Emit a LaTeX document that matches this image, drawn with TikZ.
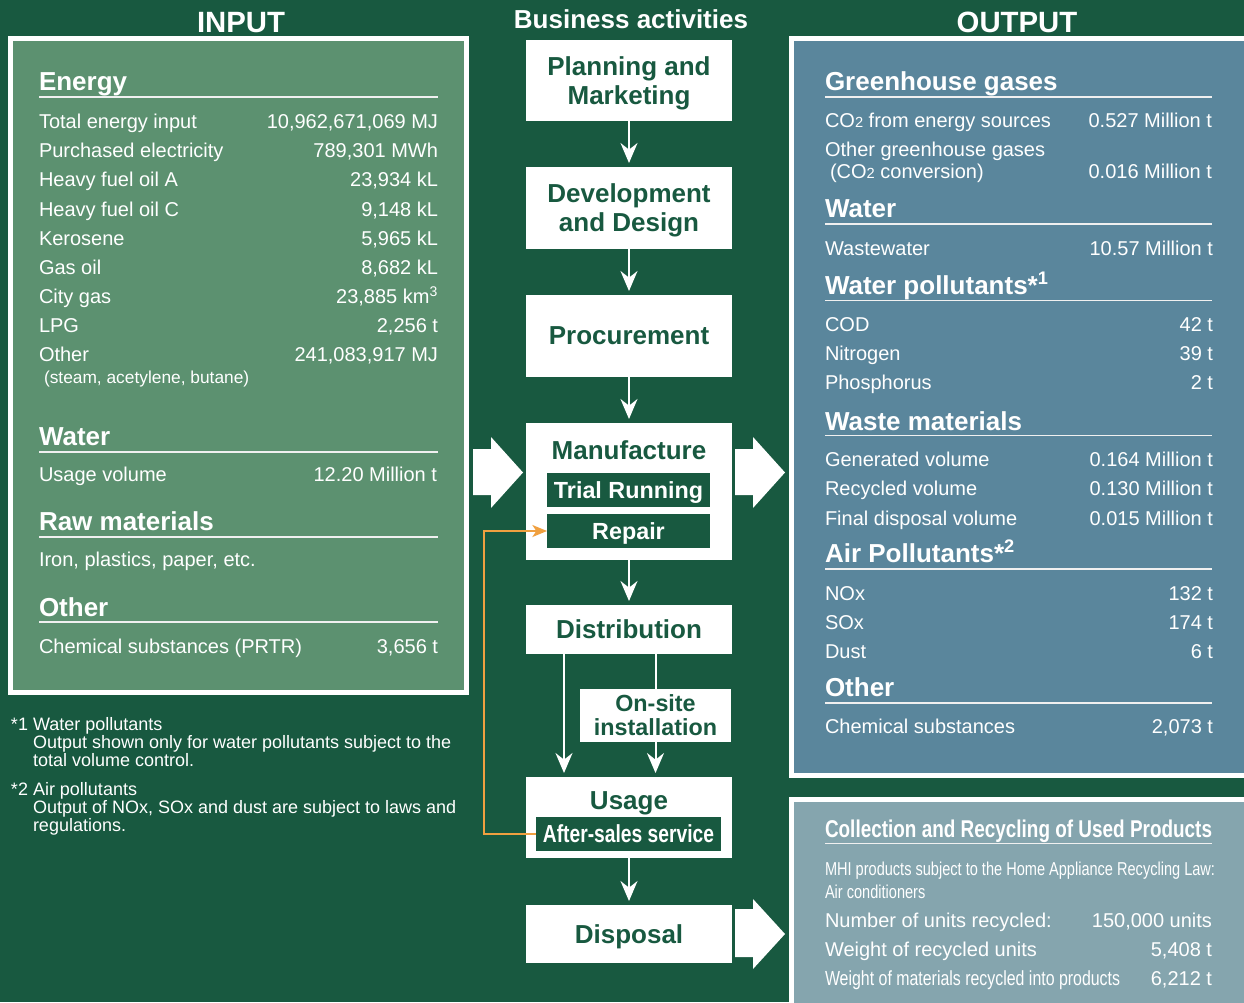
\documentclass[tikz,border=0pt]{standalone}
\usepackage{fontspec}
\setmainfont{Liberation Sans}
\newfontfamily\condfont[FakeStretch=0.78]{Liberation Sans}
\usetikzlibrary{arrows.meta,positioning,calc}

\definecolor{bggreen}{RGB}{24,89,64}
\definecolor{ingreen}{RGB}{92,145,112}
\definecolor{outblue}{RGB}{90,134,156}
\definecolor{recblue}{RGB}{133,165,174}
\definecolor{repairorange}{RGB}{240,160,64}

\begin{document}
\begin{tikzpicture}[x=0.75pt,y=-0.75pt,
  every node/.style={inner sep=0pt, outer sep=0pt},
  txt/.style={text=white, font=\fontsize{15}{18}\selectfont, anchor=base west},
  val/.style={text=white, font=\fontsize{15}{18}\selectfont, anchor=base east},
  small/.style={text=white, font=\fontsize{13}{15}\selectfont, anchor=base west},
  head/.style={text=white, font=\bfseries\fontsize{19.5}{22}\selectfont, anchor=base west},
  title/.style={text=white, font=\bfseries\fontsize{22}{24}\selectfont, anchor=base},
  note/.style={text=white, font=\fontsize{13.5}{14}\selectfont, anchor=base west},
  cond/.style={text=white, font=\condfont\fontsize{14}{16}\selectfont, anchor=base west},
  rule/.style={white!88!gray, line width=1.2pt},
  panel/.style={draw=white, line width=3.75pt},
  actbox/.style={fill=white, text=bggreen, minimum width=154.5pt, align=center,
    text depth=0pt, font=\bfseries\fontsize{19.5}{21.75}\selectfont},
  subbox/.style={fill=bggreen, text=white, minimum height=25.5pt, text depth=0pt,
    font=\bfseries\fontsize{17.5}{20}\selectfont},
  flow/.style={white, line width=1.5pt, shorten >=3pt,
    -{Stealth[length=15pt,width=12.75pt,inset=5pt]}},
  back/.style={repairorange, line width=1.5pt,
    -{Stealth[length=11pt,width=9pt,inset=3pt]}}]

 \useasboundingbox (0,0) rectangle (1244,1002);
 \clip (0,0) rectangle (1244,1002);
 \fill[bggreen] (0,0) rectangle (1244,1002);

 % column titles
 \node[title] (tin) at (241,33) {INPUT};
 \node[title] (tout) at (1017,33) {OUTPUT};
 \node[title, font=\bfseries\fontsize{19.5}{22}\selectfont] (tbus) at (631,29) {Business activities};

 % INPUT panel
 \draw[panel, fill=ingreen] (10.5,38.5) rectangle (466.5,692.5);
 \node[head] (hen) at (39,90.5) {Energy};
 \draw[rule] (39,97) -- (438,97);
 \node[txt] (e1) at (39,128) {Total energy input};
 \node[val] (v1) at (438,128) {10,962,671,069 MJ};
 \node[txt] (e2) at (39,157.5) {Purchased electricity};
 \node[val] (v2) at (438,157.5) {789,301 MWh};
 \node[txt] (e3) at (39,186.7) {Heavy fuel oil A};
 \node[val] (v3) at (438,186.7) {23,934 kL};
 \node[txt] (e4) at (39,216) {Heavy fuel oil C};
 \node[val] (v4) at (438,216) {9,148 kL};
 \node[txt] (e5) at (39,245) {Kerosene};
 \node[val] (v5) at (438,245) {5,965 kL};
 \node[txt] (e6) at (39,274) {Gas oil};
 \node[val] (v6) at (438,274) {8,682 kL};
 \node[txt] (e7) at (39,303) {City gas};
 \node[val] (v7) at (438,303) {23,885 km\textsuperscript{3}};
 \node[txt] (e8) at (39,332.5) {LPG};
 \node[val] (v8) at (438,332.5) {2,256 t};
 \node[txt] (e9) at (39,361.7) {Other};
 \node[val] (v9) at (438,361.7) {241,083,917 MJ};
 \node[small] (e10) at (44,383.3) {(steam, acetylene, butane)};

 \node[head] (hwi) at (39,445) {Water};
 \draw[rule] (39,452) -- (438,452);
 \node[txt] (w1) at (39,481.7) {Usage volume};
 \node[val] (wv1) at (437,481.7) {12.20 Million t};

 \node[head] (hraw) at (39,530) {Raw materials};
 \draw[rule] (39,537) -- (438,537);
 \node[txt] (r1) at (39,566.7) {Iron, plastics, paper, etc.};

 \node[head] (hoi) at (39,616) {Other};
 \draw[rule] (39,622) -- (438,622);
 \node[txt] (o1) at (39,653) {Chemical substances (PRTR)};
 \node[val] (ov1) at (438,653) {3,656 t};

 % footnotes
 \node[note] (n1) at (11,730) {*1};
 \node[note] (n1a) at (33,730) {Water pollutants};
 \node[note] (n1b) at (33,748.3) {Output shown only for water pollutants subject to the};
 \node[note] (n1c) at (33,766) {total volume control.};
 \node[note] (n2) at (11,795) {*2};
 \node[note] (n2a) at (33,795) {Air pollutants};
 \node[note] (n2b) at (33,813.3) {Output of NOx, SOx and dust are subject to laws and};
 \node[note] (n2c) at (33,831.7) {regulations.};

 % OUTPUT panel
 \draw[panel, fill=outblue] (791.5,38.5) rectangle (1260,775.5);
 \node[head] (hgh) at (825,90.5) {Greenhouse gases};
 \draw[rule] (825,97) -- (1212,97);
 \node[txt] (g1) at (825,127.7) {CO{\fontsize{11}{11}\selectfont 2} from energy sources};
 \node[val] (gv1) at (1212,127.7) {0.527 Million t};
 \node[txt] (g2) at (825,156.7) {Other greenhouse gases};
 \node[txt] (g3) at (830,178.3) {(CO{\fontsize{11}{11}\selectfont 2} conversion)};
 \node[val] (gv2) at (1212,178.3) {0.016 Million t};

 \node[head] (hwo) at (825,217.3) {Water};
 \draw[rule] (825,224) -- (1212,224);
 \node[txt] (ww1) at (825,255) {Wastewater};
 \node[val] (wwv1) at (1213,255) {10.57 Million t};

 \node[head] (hwp) at (825,294.3) {Water pollutants*\textsuperscript{1}};
 \draw[rule] (825,300.5) -- (1212,300.5);
 \node[txt] (p1) at (825,331.7) {COD};
 \node[val] (pv1) at (1213,331.7) {42 t};
 \node[txt] (p2) at (825,360.7) {Nitrogen};
 \node[val] (pv2) at (1213,360.7) {39 t};
 \node[txt] (p3) at (825,389.3) {Phosphorus};
 \node[val] (pv3) at (1213,389.3) {2 t};

 \node[head] (hwm) at (825,430) {Waste materials};
 \draw[rule] (825,435.5) -- (1212,435.5);
 \node[txt] (m1) at (825,466) {Generated volume};
 \node[val] (mv1) at (1213,466) {0.164 Million t};
 \node[txt] (m2) at (825,495.3) {Recycled volume};
 \node[val] (mv2) at (1213,495.3) {0.130 Million t};
 \node[txt] (m3) at (825,525) {Final disposal volume};
 \node[val] (mv3) at (1213,525) {0.015 Million t};

 \node[head] (hap) at (825,562.7) {Air Pollutants*\textsuperscript{2}};
 \draw[rule] (825,569) -- (1212,569);
 \node[txt] (a1) at (825,600) {NOx};
 \node[val] (av1) at (1213,600) {132 t};
 \node[txt] (a2) at (825,629) {SOx};
 \node[val] (av2) at (1213,629) {174 t};
 \node[txt] (a3) at (825,658.7) {Dust};
 \node[val] (av3) at (1213,658.7) {6 t};

 \node[head] (hoo) at (825,696) {Other};
 \draw[rule] (825,702.7) -- (1212,702.7);
 \node[txt] (c1) at (825,733.3) {Chemical substances};
 \node[val] (cv1) at (1213,733.3) {2,073 t};

 % collection and recycling panel
 \draw[panel, fill=recblue] (791.5,799.5) rectangle (1260,1020);
 \node[head, font=\condfont\bfseries\fontsize{18.2}{22}\selectfont] (hcr) at (825,837.3) {Collection and Recycling of Used Products};
 \draw[rule] (825,843.5) -- (1212,843.5);
 \node[cond] (k1) at (825,875) {MHI products subject to the Home Appliance Recycling Law:};
 \node[cond] (k2) at (825,898.3) {Air conditioners};
 \node[txt] (k3) at (825,927.7) {Number of units recycled:};
 \node[val] (kv3) at (1212,927.7) {150,000 units};
 \node[txt] (k4) at (825,956.7) {Weight of recycled units};
 \node[val] (kv4) at (1212,956.7) {5,408 t};
 \node[cond, font=\condfont\fontsize{15.3}{18}\selectfont] (k5) at (825,985) {Weight of materials recycled into products};
 \node[val] (kv5) at (1212,985) {6,212 t};

 % business activities
 \node[actbox, minimum height=60.75pt] (plan) at (629,80.5) {Planning and\\Marketing};
 \node[actbox, minimum height=61.5pt] (dev) at (629,208) {Development\\and Design};
 \node[actbox, minimum height=61.5pt] (proc) at (629,336) {Procurement};
 \node[actbox, minimum height=102.75pt] (manu) at (629,491.5) {};
 \node[actbox, anchor=base] (manutxt) at (629,459) {Manufacture};
 \node[subbox, minimum width=122.25pt] (trial) at (628.5,490) {Trial Running};
 \node[subbox, minimum width=122.25pt] (repair) at (628.5,531) {Repair};
 \node[actbox, minimum height=36.75pt] (dist) at (629,629.5) {Distribution};
 \node[actbox, minimum width=113.25pt, minimum height=39.75pt,
   font=\bfseries\fontsize{17.5}{18}\selectfont] (onsite) at (655.5,715.5) {On-site\\installation};
 \node[actbox, minimum height=60.75pt] (usage) at (629,817.5) {};
 \node[actbox, anchor=base] (usetxt) at (629,809) {Usage};
 \node[subbox, minimum width=138.75pt, font=\condfont\bfseries\fontsize{18.5}{20}\selectfont] (after) at (628.5,834) {After-sales service};
 \node[actbox, minimum height=43.5pt] (disp) at (629,934) {Disposal};

 \draw[flow] (plan) -- (dev);
 \draw[flow] (dev) -- (proc);
 \draw[flow] (proc) -- (manu);
 \draw[flow] (manu) -- (dist);
 \draw[flow] ([xshift=-48.75pt]dist.south) -- ([xshift=-48.75pt]usage.north);
 \draw[white, line width=1.5pt] (dist.south -| onsite.north) -- (onsite.north);
 \draw[flow] (onsite.south) -- (usage.north -| onsite.south);
 \draw[flow] (usage) -- (disp);
 \draw[back] (after.west) -- ++(-52,0) |- (repair.west);

 % block arrows
 \fill[white] (473,449) -- (491,449) -- (491,437) -- (523,472.5) -- (491,508) -- (491,495) -- (473,495) -- cycle;
 \fill[white] (735,449) -- (753,449) -- (753,437) -- (785,472.5) -- (753,508) -- (753,495) -- (735,495) -- cycle;
 \fill[white] (735,909) -- (753,909) -- (753,899) -- (785,934) -- (753,969) -- (753,957) -- (735,957) -- cycle;
\end{tikzpicture}
\end{document}
